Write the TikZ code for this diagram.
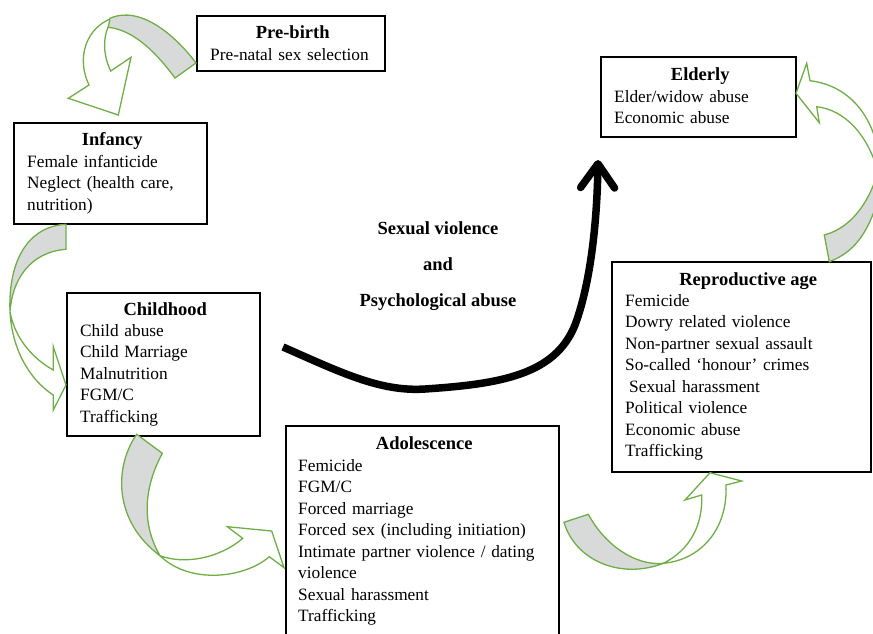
\documentclass[tikz,border=0pt]{standalone}
\usepackage{fontspec}
\setmainfont{Liberation Serif}
\usepackage{tikz}
\usetikzlibrary{arrows.meta, calc}
\definecolor{leafgreen}{RGB}{112,173,71}
\definecolor{bandgrey}{RGB}{216,218,218}
\tikzstyle{frame} = [draw, line width=1.5pt, anchor=north west, inner sep=0pt]
\tikzstyle{heading} = [anchor=base, inner sep=0pt, font=\bfseries\fontsize{18.5}{22}\selectfont]
\tikzstyle{items} = [anchor=base west, inner sep=0pt, align=left, font=\fontsize{17.3}{21.5}\selectfont]
\tikzstyle{band} = [draw=leafgreen, fill=bandgrey, line width=1.3pt]
\tikzstyle{hollow} = [draw=leafgreen, fill=white, line width=1.3pt]
\tikzstyle{violence} = [line width=7.5pt, -{Straight Barb[length=24pt, width=34pt, round]}]

\begin{document}
\begin{tikzpicture}[x=1pt, y=-1pt]
    \useasboundingbox (0,0) rectangle (873,633);

    % stage boxes
    \node (prebirth) [frame, minimum width=188pt, minimum height=55pt] at (196,15) {};
    \node (infancy) [frame, minimum width=193pt, minimum height=101pt] at (13,122) {};
    \node (childhood) [frame, minimum width=193pt, minimum height=143pt] at (66,292) {};
    \node (adolescence) [frame, minimum width=273pt, minimum height=209pt] at (285,425) {};
    \node (elderly) [frame, minimum width=195pt, minimum height=80pt] at (600,56) {};
    \node (repro) [frame, minimum width=259pt, minimum height=210pt] at (611,261) {};

    \node (prebirth-title) [heading] at ($(prebirth.north)+(2,23)$) {Pre-birth};
    \node (prebirth-list) [items, text width=165pt] at ($(prebirth.north west)+(14,45)$) {Pre-natal sex selection};

    \node (infancy-title) [heading] at ($(infancy.north)+(2,23)$) {Infancy};
    \node (infancy-list) [items, text width=170pt] at ($(infancy.north west)+(14,45)$)
        {Female infanticide\\Neglect (health care,\\nutrition)};

    \node (childhood-title) [heading] at ($(childhood.north)+(2,23)$) {Childhood};
    \node (childhood-list) [items, text width=170pt] at ($(childhood.north west)+(14,44)$)
        {Child abuse\\Child Marriage\\Malnutrition\\FGM/C\\Trafficking};

    \node (adolescence-title) [heading] at ($(adolescence.north)+(2,24)$) {Adolescence};
    \node (adolescence-list) [items, text width=250pt] at ($(adolescence.north west)+(13,46)$)
        {Femicide\\FGM/C\\Forced marriage\\Forced sex (including initiation)\\Intimate partner violence / dating\\violence\\Sexual harassment\\Trafficking};

    \node (elderly-title) [heading] at ($(elderly.north)+(2,24)$) {Elderly};
    \node (elderly-list) [items, text width=170pt] at ($(elderly.north west)+(14,46)$)
        {Elder/widow abuse\\Economic abuse};

    \node (repro-title) [heading] at ($(repro.north)+(7,24)$) {Reproductive age};
    \node (repro-list) [items, text width=235pt] at ($(repro.north west)+(14,45)$)
        {Femicide\\Dowry related violence\\Non-partner sexual assault\\So-called ‘honour’ crimes\\\hspace*{4pt}Sexual harassment\\Political violence\\Economic abuse\\Trafficking};

    % centre label and arrow
    \node (violence-label) [align=center, font=\bfseries\fontsize{18.5}{36}\selectfont] at (438,266)
        {Sexual violence\\and\\Psychological abuse};
    \coordinate (sv-start) at (283,347);
    \coordinate (sv-end) at (598,160);
    \draw[violence] (sv-start) .. controls (340,372) and (380,392) .. (425,389)
        .. controls (500,384) and (555,375) .. (575,325)
        .. controls (590,285) and (597,225) .. (sv-end);

    % pre-birth to infancy
    \filldraw[hollow] (111.7,18.3) .. controls (86,28) and (76,58) .. (89,85) -- (68.3,98.3) -- (118.3,115)
        -- (131,57.3) -- (110.7,71) .. controls (103,55) and (103,38) .. (108.3,26.7) -- cycle;
    \filldraw[band] (196,63) .. controls (175,35) and (140,5) .. (110,18.3) -- (108.3,27.3)
        .. controls (135,30) and (158,55) .. (175,78) -- cycle;

    % infancy to childhood
    \filldraw[hollow] (10,311.7) .. controls (12,350) and (30,380) .. (53.3,395) -- (53.3,410) -- (66,385)
        -- (53.3,346.7) -- (53.3,370) .. controls (35,360) and (15,340) .. (10,311.7) -- cycle;
    \filldraw[band] (66,224.3) .. controls (30,226) and (8,258) .. (10,311.7)
        .. controls (12,280) and (30,252) .. (66,249.3) -- cycle;

    % childhood to adolescence
    \filldraw[hollow] (160,555.7) .. controls (185,565) and (220,558) .. (242.7,538.3) -- (227.3,526.7)
        -- (271.7,531) -- (284,567.7) -- (269.3,556.7) .. controls (245,578) and (190,585) .. (160,555.7) -- cycle;
    \filldraw[band] (136.7,434.3) .. controls (115,465) and (112,520) .. (160,555.7)
        .. controls (145,530) and (140,495) .. (162.3,453.3) -- cycle;

    % adolescence to reproductive age
    \filldraw[hollow] (663.3,563.3) .. controls (690,550) and (703,525) .. (701.7,495) -- (685,500)
        -- (710,472.7) -- (741.7,481) -- (726,485) .. controls (728,530) and (700,560) .. (663.3,563.3) -- cycle;
    \filldraw[band] (564,522.3) .. controls (575,560) and (620,580) .. (663.3,563.3)
        .. controls (635,566) and (605,545) .. (588.3,514.3) -- cycle;

    % reproductive age to elderly
    \filldraw[hollow] (878,172) .. controls (868,135) and (845,110) .. (816.7,106.7) -- (819.3,122.7)
        -- (796,93.3) -- (806.7,63.3) -- (810,80.7) .. controls (845,85) and (870,110) .. (878,150) -- cycle;
    \filldraw[band] (829.3,261.7) .. controls (855,252) and (868,232) .. (878,200) -- (878,172)
        .. controls (868,205) and (850,228) .. (824.3,235) -- cycle;
\end{tikzpicture}
\end{document}
